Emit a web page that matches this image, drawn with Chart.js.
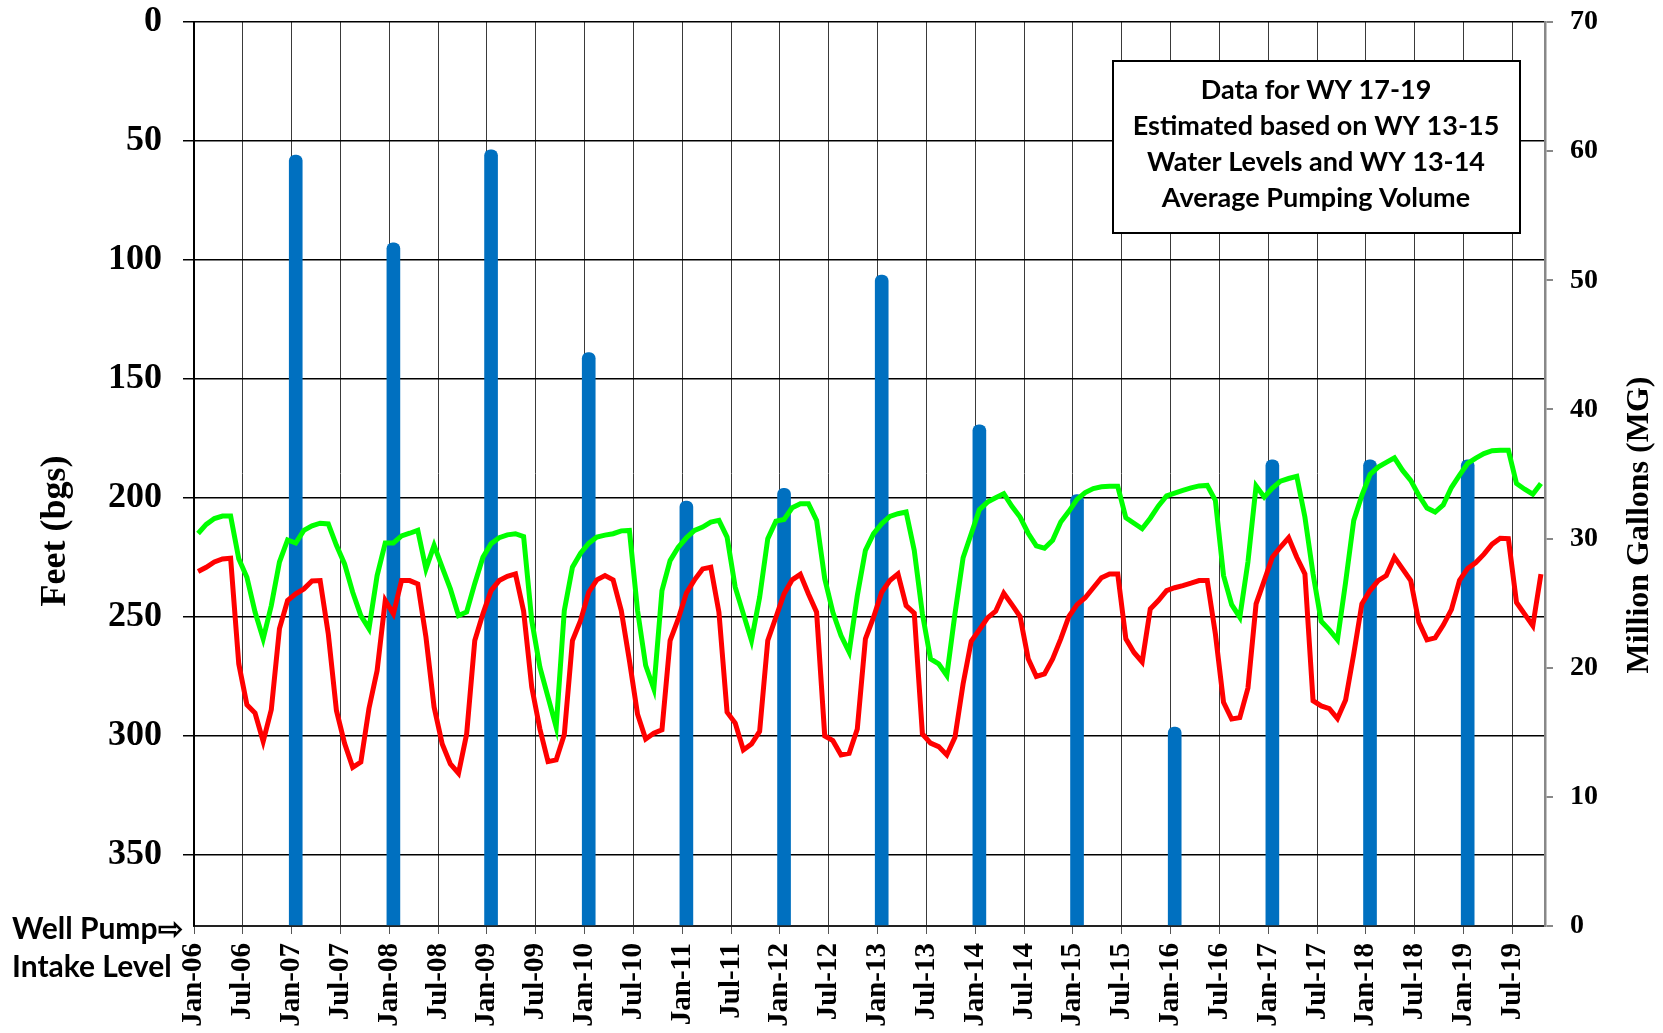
<!DOCTYPE html>
<html>
<head>
<meta charset="utf-8">
<script src="https://cdn.jsdelivr.net/npm/chart.js"></script>
<style>
  body { margin: 0; background: #fff; }
  canvas { display: block; }
</style>
</head>
<body>
<canvas id="grafico" width="1663" height="1033"></canvas>
<script>
// DATI --------------------
var startYear = 2006;

// tick labels of the time axis (every 6 months)
var xTickLabels = ['Jan-06', 'Jul-06', 'Jan-07', 'Jul-07', 'Jan-08', 'Jul-08', 'Jan-09', 'Jul-09',
  'Jan-10', 'Jul-10', 'Jan-11', 'Jul-11', 'Jan-12', 'Jul-12', 'Jan-13', 'Jul-13', 'Jan-14', 'Jul-14',
  'Jan-15', 'Jul-15', 'Jan-16', 'Jul-16', 'Jan-17', 'Jul-17', 'Jan-18', 'Jul-18', 'Jan-19', 'Jul-19'];
var feetTicks = [0, 50, 100, 150, 200, 250, 300, 350];
var mgTicks = [0, 10, 20, 30, 40, 50, 60, 70];

// monthly water level, feet below ground surface, Jan-06 .. Oct-19
var greenLevel = [
  215, 211.2, 208.7, 207.7, 207.7, 225.6, 233.4, 248, 259.3, 245.3, 227, 217.7,
  219, 213.7, 211.8, 210.7, 211, 220, 227.8, 239.7, 249.5, 255, 232.7, 219,
  219, 216, 214.9, 213.7, 229.9, 220, 229.2, 238.3, 249.5, 248, 236, 225,
  219.3, 216.8, 215.6, 215.1, 216.3, 251.6, 271.2, 283.8, 296.4, 247.4, 229.2, 223.3,
  219.1, 216.5, 215.7, 215.1, 213.9, 213.7, 247.4, 270.5, 280.3, 239, 226.4, 220.8,
  216.8, 213.7, 212.3, 210.2, 209.5, 216.5, 237.6, 248.8, 260, 241.8, 217.2, 209.8,
  209.1, 204.2, 202.5, 202.5, 209.5, 234, 248.1, 257.9, 264.9, 241.1, 222.1, 215.1,
  210.9, 207.8, 206.7, 206, 222.1, 248.8, 267.7, 269.8, 274.7, 248.8, 225.2, 215.1,
  205, 201.8, 200, 198.3, 203.6, 208.1, 214.9, 220.2, 221.2, 217.9, 210.2, 205.7,
  200.7, 197.8, 196.1, 195.4, 195.2, 195.2, 208.4, 210.7, 213, 208.6, 203.4, 199.2,
  198, 196.9, 195.8, 195, 194.8, 201.1, 232.7, 244.9, 250.2, 227, 195, 199.7,
  195.9, 193, 191.9, 191, 208.1, 232, 251.9, 255.5, 259.7, 235.5, 209.5, 199,
  190.2, 187.1, 185.1, 183.2, 188.5, 192.7, 199, 204.3, 206, 203, 195.7, 190.5,
  185.5, 183.3, 181.4, 180.2, 180, 180, 194, 196.4, 198.5, 194
];
var redLevel = [
  231, 229.2, 227, 225.7, 225.4, 269.8, 287, 290.5, 302.4, 289, 255, 243.2,
  240.4, 238.3, 235, 234.8, 257.2, 289.4, 303.2, 313.3, 311.1, 288.5, 272.6, 243.2,
  248.8, 234.8, 234.8, 236.2, 258.6, 288, 303.5, 311.9, 315.8, 299.3, 260, 248.8,
  239, 234.8, 233, 232, 247.7, 279.6, 297.2, 310.9, 310.2, 299.5, 260, 251.6,
  239.7, 234.5, 232.7, 234.5, 247.4, 268.4, 291, 301.4, 299, 297.5, 260, 250.9,
  240, 234.5, 229.9, 229.2, 248.1, 290.1, 294.7, 306, 303.5, 298.2, 260, 250.2,
  240.4, 234.5, 232.2, 240.4, 248.1, 300.1, 302.1, 308.1, 307.4, 297.2, 259.3, 250.2,
  239.7, 234.8, 232, 245.3, 248.5, 299.3, 303.1, 304.6, 308.1, 300.7, 278.2, 260.3,
  255.5, 250.5, 247.7, 240.1, 244.9, 249.9, 267.7, 275.1, 274, 267.7, 259.3, 249.9,
  244.9, 242, 237.8, 233.6, 232, 232, 259.3, 265, 269, 246.7, 243.2, 239,
  237.8, 236.9, 235.9, 234.8, 234.8, 257.2, 286, 293, 292.4, 280, 244.6, 234.8,
  225, 220.7, 216.8, 225, 232, 285.3, 287.5, 288.6, 292.8, 285, 265.6, 244.6,
  239, 234.8, 232.7, 225, 229.9, 234.8, 252.3, 259.7, 258.9, 253.5, 247, 234.7,
  229.7, 227.2, 223.7, 219.5, 217, 217.2, 244, 248.9, 253.8, 232.1
];

// january pumping volume, million gallons
var pumpYears = [2007, 2008, 2009, 2010, 2011, 2012, 2013, 2014, 2015, 2016, 2017, 2018, 2019];
var pumpMG = [59.7, 52.9, 60.1, 44.4, 32.9, 33.9, 50.4, 38.8, 33.4, 15.4, 36.1, 36.1, 36.1];

var noteLines = ['Data for WY 17-19', 'Estimated based on WY 13-15', 'Water Levels and WY 13-14', 'Average Pumping Volume'];

// points sit in the middle of their month
function monthSeries(values) {
  return values.map(function (v, i) { return { x: i + 0.5, y: v }; });
}
var barPoints = pumpYears.map(function (yr, i) {
  return { x: (yr - startYear) * 12 + 0.5, y: pumpMG[i] };
});

var serif = 'Liberation Serif';

// TESTI EXTRA (titoli assi, riquadro, livello pompa)
var extraText = {
  id: 'extraText',
  afterDraw: function (chart) {
    var c = chart.ctx;
    c.save();
    c.fillStyle = '#000';
    c.textAlign = 'center';
    c.textBaseline = 'middle';

    c.save();
    c.translate(56, 531);
    c.rotate(-Math.PI / 2);
    c.font = 'bold 36px "' + serif + '"';
    c.fillText('Feet (bgs)', 0, 0);
    c.restore();

    c.save();
    c.translate(1640, 525);
    c.rotate(-Math.PI / 2);
    c.font = 'bold 32px "' + serif + '"';
    c.fillText('Million Gallons (MG)', 0, 0);
    c.restore();

    // riquadro note
    c.fillStyle = '#fff';
    c.fillRect(1113, 61, 407, 172);
    c.strokeStyle = '#000';
    c.lineWidth = 2;
    c.strokeRect(1113, 61, 407, 172);
    c.fillStyle = '#000';
    c.font = 'bold 27px Lato';
    noteLines.forEach(function (t, i) {
      c.fillText(t, 1316, 90 + i * 36);
    });

    c.textAlign = 'left';
    c.font = 'bold 30px Lato';
    c.fillText('Well Pump\u21E8', 12, 929);
    c.fillText('Intake Level', 12, 967);
    c.restore();
  }
};

var ctx = document.getElementById('grafico');
var chart = new Chart(ctx, {
  type: 'line',
  data: {
    datasets: [{
      label: 'Green level',
      data: monthSeries(greenLevel),
      borderColor: '#00FF00',
      borderWidth: 5,
      pointRadius: 0,
      tension: 0,
      yAxisID: 'y',
      order: 1
    }, {
      label: 'Red level',
      data: monthSeries(redLevel),
      borderColor: '#FF0000',
      borderWidth: 5,
      pointRadius: 0,
      tension: 0,
      yAxisID: 'y',
      order: 0
    }, {
      type: 'bar',
      label: 'Pumping volume',
      data: barPoints,
      backgroundColor: '#0070C0',
      borderWidth: 0,
      barThickness: 13,
      borderRadius: 6,
      yAxisID: 'y2',
      order: 2
    }]
  },
  options: {
    responsive: false,
    animation: false,
    devicePixelRatio: 1,
    layout: { padding: { top: 22, left: 0, right: 0, bottom: 0 } },
    plugins: { legend: { display: false }, tooltip: { enabled: false } },
    scales: {
      x: {
        type: 'linear',
        offset: false,
        min: 0,
        max: 166,
        afterBuildTicks: function (s) {
          s.ticks = xTickLabels.map(function (l, i) { return { value: i * 6 }; });
        },
        afterFit: function (s) { s.height = 107; s.paddingLeft = 0; s.paddingRight = 0; },
        ticks: {
          autoSkip: false,
          maxRotation: 90,
          minRotation: 90,
          padding: 9,
          color: '#000',
          font: { family: serif, size: 29, weight: 'bold' },
          callback: function (v, i) { return xTickLabels[i]; }
        },
        grid: { offset: false, color: '#3a3a3a', lineWidth: 1, tickLength: 8, tickColor: '#555' },
        border: { color: '#222', width: 2 }
      },
      y: {
        position: 'left',
        reverse: true,
        min: 0,
        max: 380,
        afterBuildTicks: function (s) {
          s.ticks = feetTicks.map(function (v) { return { value: v }; });
        },
        afterFit: function (s) { s.width = 194; s.paddingTop = 0; s.paddingBottom = 0; },
        ticks: {
          padding: 21,
          color: '#000',
          font: { family: serif, size: 36, weight: 'bold' }
        },
        grid: { color: '#000', lineWidth: 1.5, tickLength: 11 },
        border: { color: '#000', width: 2 }
      },
      y2: {
        position: 'right',
        min: 0,
        max: 70,
        afterBuildTicks: function (s) {
          s.ticks = mgTicks.map(function (v) { return { value: v }; });
        },
        afterFit: function (s) { s.width = 118; s.paddingTop = 0; s.paddingBottom = 0; },
        ticks: {
          padding: 17,
          color: '#000',
          font: { family: serif, size: 28, weight: 'bold' }
        },
        grid: { drawOnChartArea: false, color: '#888', lineWidth: 2, tickLength: 8 },
        border: { color: '#888', width: 2.5 }
      }
    }
  },
  plugins: [extraText]
});
</script>
</body>
</html>
